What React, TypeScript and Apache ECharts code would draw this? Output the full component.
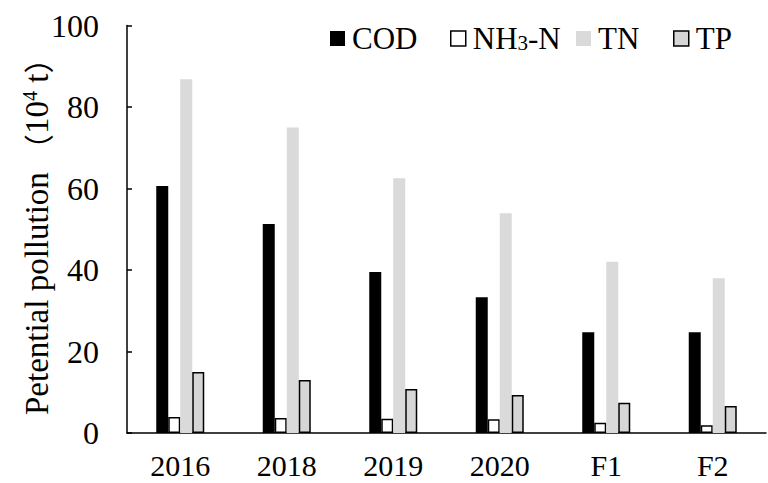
import React, { useEffect, useRef } from "react";
import * as echarts from "echarts";

const categories = ["2016", "2018", "2019", "2020", "F1", "F2"];
const codValues = [60.6, 51.3, 39.5, 33.3, 24.7, 24.7];
const nh3Values = [3.9, 3.7, 3.5, 3.4, 2.5, 1.9];
const tnValues = [86.8, 75.0, 62.5, 53.9, 42.0, 38.0];
const tpValues = [15.0, 13.0, 10.8, 9.3, 7.4, 6.6];
const seriesNames = ["COD", "NH3-N", "TN", "TP"];

const FONT = '"Liberation Serif", "Times New Roman", serif';
const CJK = '"Noto Sans CJK SC", "Liberation Serif", serif';

export default function App() {
  const ref = useRef<HTMLDivElement>(null);
  useEffect(() => {
    if (!ref.current) return;
    const chart = echarts.init(ref.current, null, { renderer: "svg" });
    const tickText = { fontFamily: FONT, fontSize: 32, color: "#000" };
    const legText = { fontFamily: FONT, fontSize: 31, color: "#000" };
    const legendCommon = {
      top: 23,
      padding: 0,
      itemWidth: 15,
      itemHeight: 15,
      icon: "rect",
      textStyle: { ...legText, padding: [0, 0, 0, 2] },
    };
    chart.setOption({
      animation: false,
      backgroundColor: "#fff",
      textStyle: { fontFamily: FONT },
      legend: [
        { ...legendCommon, left: 330, data: [seriesNames[0]], itemStyle: { color: "#000", borderWidth: 0 } },
        {
          ...legendCommon,
          left: 450,
          data: [seriesNames[1]],
          itemStyle: { color: "#fff", borderColor: "#000", borderWidth: 1.5 },
          formatter: () => "{a|NH}{s|3}{a|-N}",
          textStyle: {
            ...legText,
            padding: [0, 0, 0, 2],
            rich: {
              a: { ...legText },
              s: { fontFamily: FONT, fontSize: 21, color: "#000", verticalAlign: "bottom", padding: [0, 0, 1, 0] },
            },
          },
        },
        { ...legendCommon, left: 576, data: [seriesNames[2]], itemStyle: { color: "#dadada", borderWidth: 0 } },
        { ...legendCommon, left: 673, data: [seriesNames[3]], itemStyle: { color: "#d6d6d6", borderColor: "#000", borderWidth: 1.5 } },
      ],
      grid: { left: 127, right: 2, top: 25.5, bottom: 50, containLabel: false },
      xAxis: {
        type: "category",
        data: categories,
        boundaryGap: true,
        axisLine: { lineStyle: { color: "#000", width: 1.5 } },
        axisTick: { inside: true, length: 6, lineStyle: { color: "#000", width: 1.5 } },
        axisLabel: { ...tickText, fontSize: 30, lineHeight: 24, margin: 20 },
        splitLine: { show: false },
      },
      yAxis: {
        type: "value",
        min: 0,
        max: 100,
        interval: 20,
        name: "{a|Petential pollution }{p|（}{a|10}{s|4}{a| t}{p|）}",
        nameLocation: "middle",
        nameGap: 74,
        nameMoveOverlap: false,
        nameTextStyle: {
          rich: {
            a: { fontFamily: FONT, fontSize: 33, color: "#000" },
            p: { fontFamily: CJK, fontSize: 30, color: "#000" },
            s: { fontFamily: FONT, fontSize: 20, color: "#000", verticalAlign: "top" },
          },
        },
        axisLine: { show: true, lineStyle: { color: "#000", width: 1.5 } },
        axisTick: { show: true, inside: true, length: 5, lineStyle: { color: "#000", width: 1.5 } },
        axisLabel: { ...tickText, margin: 28 },
        splitLine: { show: false },
      },
      series: [
        {
          name: seriesNames[0],
          type: "bar",
          data: codValues,
          barWidth: 12,
          barGap: "0%",
          itemStyle: { color: "#000" },
        },
        {
          name: seriesNames[1],
          type: "bar",
          data: nh3Values,
          barWidth: 12,
          barGap: "0%",
          itemStyle: { color: "#fff", borderColor: "#000", borderWidth: 1.5 },
        },
        {
          name: seriesNames[2],
          type: "bar",
          data: tnValues,
          barWidth: 12,
          barGap: "0%",
          itemStyle: { color: "#dadada" },
        },
        {
          name: seriesNames[3],
          type: "bar",
          data: tpValues,
          barWidth: 12,
          barGap: "0%",
          itemStyle: { color: "#d6d6d6", borderColor: "#000", borderWidth: 1.5 },
        },
      ],
    });
    return () => chart.dispose();
  }, []);
  return (
    <div
      ref={ref}
      style={{ position: "fixed", left: 0, top: 0, width: 768, height: 483, background: "#fff" }}
    />
  );
}
